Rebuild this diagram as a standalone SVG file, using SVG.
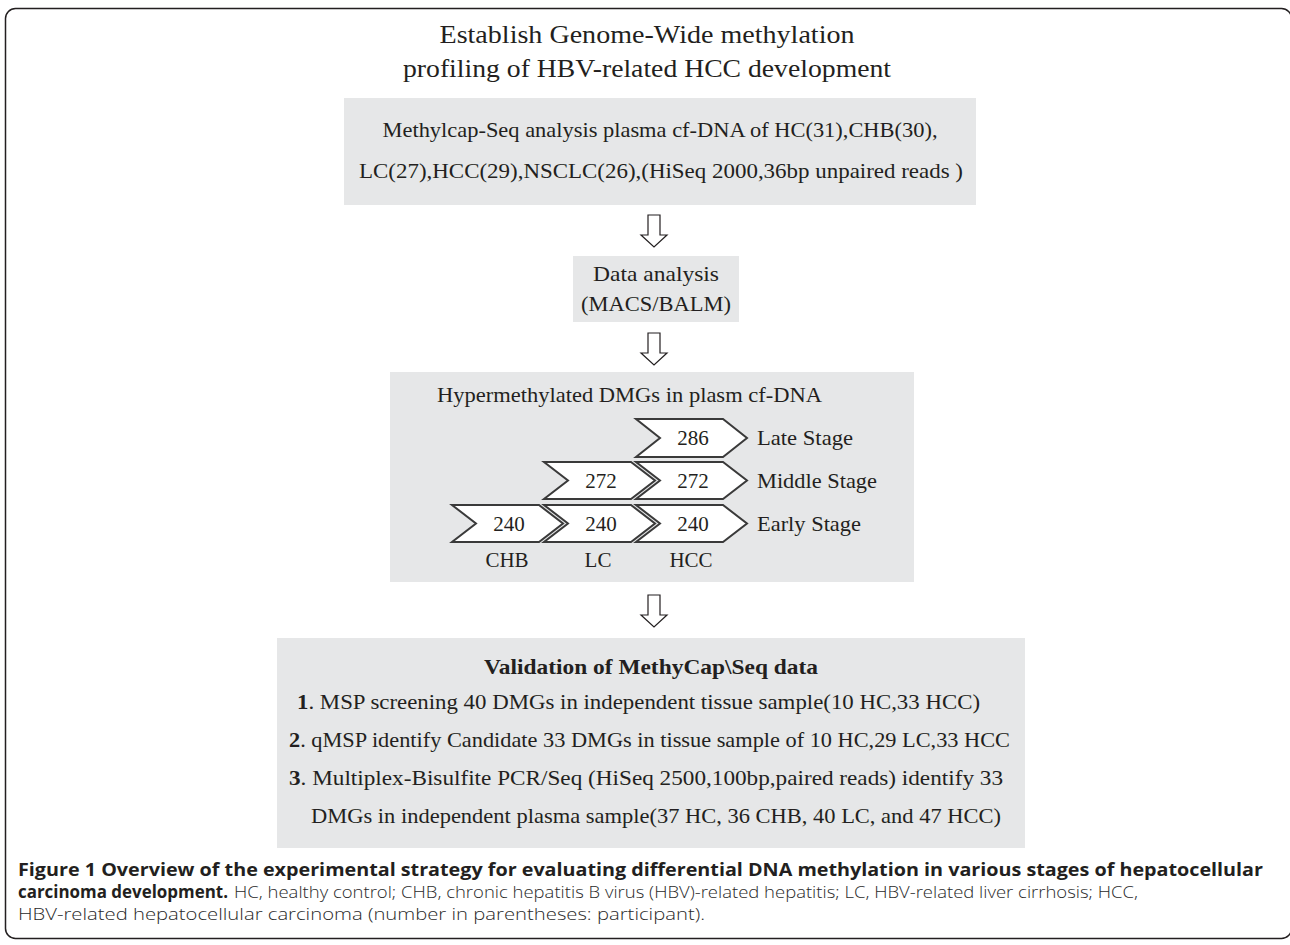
<svg xmlns="http://www.w3.org/2000/svg" width="1290" height="945" viewBox="0 0 1290 945">
<style>
.box{fill:#e6e7e8;stroke:none}
.t{font-family:"Liberation Serif","Times New Roman",serif;font-size:21px;fill:#231f20}
.tt{font-family:"Liberation Serif","Times New Roman",serif;font-size:25px;fill:#231f20;text-anchor:middle}
.c{text-anchor:middle}
.b{font-weight:bold}
.chev{fill:#ffffff;stroke:#3a3a3a;stroke-width:2;stroke-linejoin:miter}
.arr{fill:#ffffff;stroke:#231f20;stroke-width:1.2}
.cap{font-family:"Open Sans","Liberation Sans",sans-serif;font-size:17px;fill:#231f20}
.capr{font-family:"Open Sans","Liberation Sans",sans-serif;font-size:17px;font-weight:300;fill:#2a2a2a}
</style>
<rect x="5.5" y="8.5" width="1286" height="930" rx="10" fill="none" stroke="#231f20" stroke-width="1.5"/>

<g id="title">
<text class="tt" x="647" y="43" textLength="415" lengthAdjust="spacingAndGlyphs">Establish Genome-Wide methylation</text>
<text class="tt" x="647" y="77" textLength="488" lengthAdjust="spacingAndGlyphs">profiling of HBV-related HCC development</text>
</g>

<g id="node-methylcap">
<rect class="box" x="344" y="98" width="632" height="107"/>
<text class="t c" x="660" y="137" textLength="555" lengthAdjust="spacingAndGlyphs">Methylcap-Seq analysis plasma cf-DNA of HC(31),CHB(30),</text>
<text class="t c" x="661" y="178" textLength="604" lengthAdjust="spacingAndGlyphs">LC(27),HCC(29),NSCLC(26),(HiSeq 2000,36bp unpaired reads )</text>
</g>

<g id="node-data-analysis">
<rect class="box" x="573" y="256" width="166" height="66"/>
<text class="t c" x="656" y="281" textLength="126" lengthAdjust="spacingAndGlyphs">Data analysis</text>
<text class="t c" x="656" y="311" textLength="150" lengthAdjust="spacingAndGlyphs">(MACS/BALM)</text>
</g>

<g id="node-hypermethylated">
<rect class="box" x="390" y="372" width="524" height="210"/>
<text class="t" x="437" y="402" textLength="385" lengthAdjust="spacingAndGlyphs">Hypermethylated DMGs in plasm cf-DNA</text>
<g id="chevrons">
<polygon class="chev" points="636,419 723,419 747,438 723,457 636,457 660,438"/>
<polygon class="chev" points="544,462 631,462 655,480.5 631,499 544,499 568,480.5"/>
<polygon class="chev" points="636,462 723,462 747,480.5 723,499 636,499 660,480.5"/>
<polygon class="chev" points="452,505 539,505 563,523.5 539,542 452,542 476,523.5"/>
<polygon class="chev" points="544,505 631,505 655,523.5 631,542 544,542 568,523.5"/>
<polygon class="chev" points="636,505 723,505 747,523.5 723,542 636,542 660,523.5"/>
</g>
<text class="t c" x="693" y="445">286</text>
<text class="t c" x="601" y="488">272</text>
<text class="t c" x="693" y="488">272</text>
<text class="t c" x="509" y="531">240</text>
<text class="t c" x="601" y="531">240</text>
<text class="t c" x="693" y="531">240</text>
<text class="t" x="757" y="445" textLength="96" lengthAdjust="spacingAndGlyphs">Late Stage</text>
<text class="t" x="757" y="488" textLength="120" lengthAdjust="spacingAndGlyphs">Middle Stage</text>
<text class="t" x="757" y="531" textLength="104" lengthAdjust="spacingAndGlyphs">Early Stage</text>
<text class="t c" x="507" y="567">CHB</text>
<text class="t c" x="598" y="567">LC</text>
<text class="t c" x="691" y="567">HCC</text>
</g>

<g id="node-validation">
<rect class="box" x="277" y="638" width="748" height="210"/>
<text class="t c b" x="651" y="674" textLength="334" lengthAdjust="spacingAndGlyphs">Validation of MethyCap\Seq data</text>
<text class="t" x="297" y="709" textLength="683" lengthAdjust="spacingAndGlyphs"><tspan class="b">1</tspan>. MSP screening 40 DMGs in independent tissue sample(10 HC,33 HCC)</text>
<text class="t" x="289" y="747" textLength="721" lengthAdjust="spacingAndGlyphs"><tspan class="b">2</tspan>. qMSP identify Candidate 33 DMGs in tissue sample of 10 HC,29 LC,33 HCC</text>
<text class="t" x="289" y="785" textLength="714" lengthAdjust="spacingAndGlyphs"><tspan class="b">3</tspan>. Multiplex-Bisulfite PCR/Seq (HiSeq 2500,100bp,paired reads) identify 33</text>
<text class="t" x="311" y="823" textLength="690" lengthAdjust="spacingAndGlyphs">DMGs in independent plasma sample(37 HC, 36 CHB, 40 LC, and 47 HCC)</text>
</g>

<g id="connectors">
<path class="arr" d="M648,215 h12 v20 h7 l-13,12 l-13,-12 h7 z"/>
<path class="arr" d="M648,333 h12 v20 h7 l-13,12 l-13,-12 h7 z"/>
<path class="arr" d="M648,595 h12 v20 h7 l-13,12 l-13,-12 h7 z"/>
</g>

<g id="caption">
<text class="cap b" x="18" y="876" textLength="1245" lengthAdjust="spacingAndGlyphs">Figure 1 Overview of the experimental strategy for evaluating differential DNA methylation in various stages of hepatocellular</text>
<text class="cap b" x="18" y="898" textLength="210" lengthAdjust="spacingAndGlyphs">carcinoma development.</text>
<text class="capr" x="234" y="898" textLength="904" lengthAdjust="spacingAndGlyphs">HC, healthy control; CHB, chronic hepatitis B virus (HBV)-related hepatitis; LC, HBV-related liver cirrhosis; HCC,</text>
<text class="capr" x="18" y="920" textLength="687" lengthAdjust="spacingAndGlyphs">HBV-related hepatocellular carcinoma (number in parentheses: participant).</text>
</g>
</svg>
